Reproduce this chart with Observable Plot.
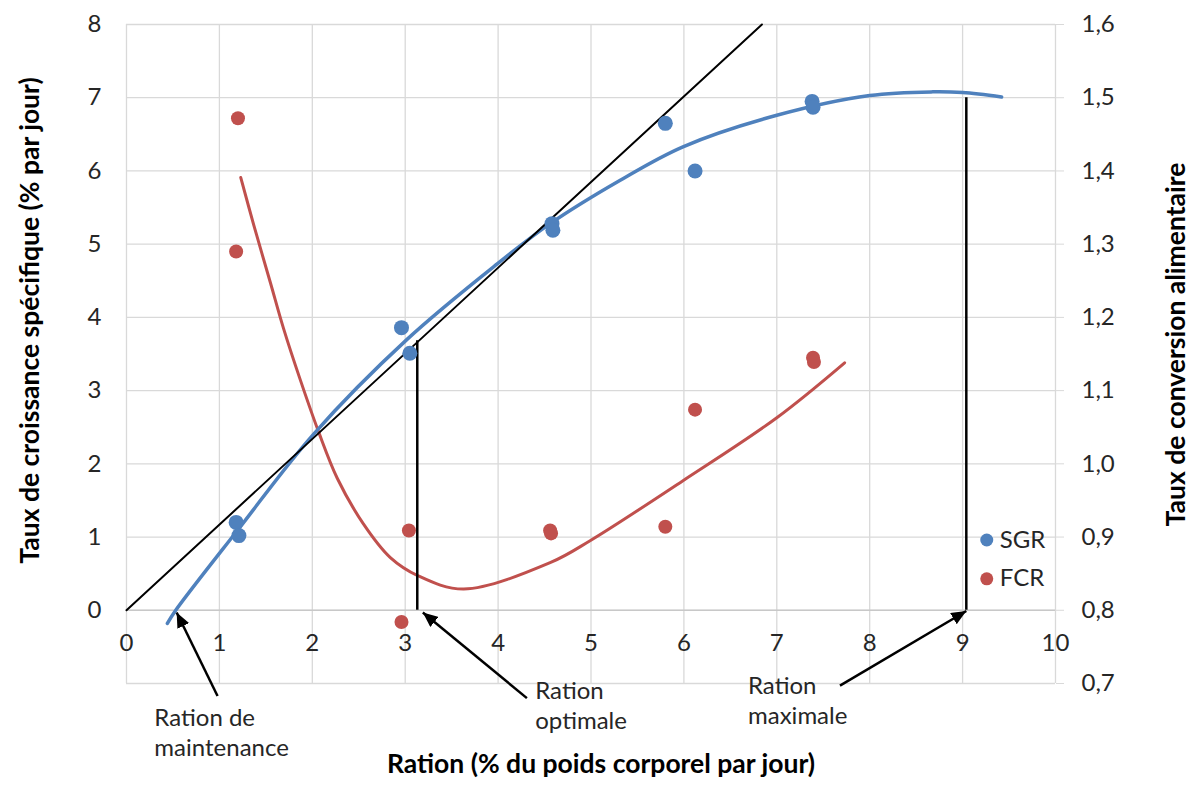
<!DOCTYPE html>
<html><head><meta charset="utf-8">
<script src="https://cdn.jsdelivr.net/npm/d3@7"></script>
<script src="https://cdn.jsdelivr.net/npm/@observablehq/plot@0.6"></script>
<style>
body{margin:0;background:#fff;}
#chart svg{display:block;}
</style></head><body><div id="chart"></div>
<script>
// ---- Data ----
// Observations (ration %, SGR % per day)
const sgrX = [1.18, 1.21, 2.96, 3.05, 4.58, 4.59, 5.80, 6.12, 7.38, 7.39];
const sgrY = [1.20, 1.02, 3.86, 3.51, 5.28, 5.19, 6.65, 6.00, 6.95, 6.87];
// Observations (ration %, FCR) — right axis
const fcrX = [1.20, 1.18, 2.96, 3.04, 4.56, 4.57, 5.80, 6.12, 7.39, 7.40];
const fcrY = [1.472, 1.290, 0.784, 0.909, 0.909, 0.905, 0.914, 1.074, 1.145, 1.139];
// Trend curve of SGR
const sgrTrendX = [0.44, 0.53, 1.20, 2.01, 3.02, 3.99, 4.56, 5.31, 5.99, 7.00, 8.00, 8.68, 9.00, 9.42];
const sgrTrendY = [-0.18, 0.00, 1.10, 2.40, 3.70, 4.73, 5.28, 5.87, 6.33, 6.76, 7.03, 7.08, 7.07, 7.01];
// Trend curve of FCR — right axis
const fcrTrendX = [1.23, 1.37, 1.55, 1.69, 1.87, 2.07, 2.27, 2.55, 2.84, 3.14, 3.63, 4.56, 4.99, 5.99, 7.00, 7.73];
const fcrTrendY = [1.391, 1.326, 1.247, 1.185, 1.115, 1.043, 0.980, 0.918, 0.872, 0.847, 0.829, 0.865, 0.895, 0.977, 1.063, 1.138];
// Tangent from the origin
const tangentX = [0, 6.84];
const tangentY = [0, 8];
// Optimal and maximal rations (x, height on SGR axis)
const rationMarksX = [3.13, 9.04];
const rationMarksTop = [3.68, 7.00];
// Annotations
const annotationText = ["Ration de\nmaintenance", "Ration\noptimale", "Ration\nmaximale"];
const annotationTextX = [0.30, 4.40, 6.69];
const annotationTextY = [-1.66, -1.28, -1.22];
const arrowFromX = [0.98, 4.31, 7.68];
const arrowFromY = [-1.17, -1.20, -1.03];
const arrowToX = [0.54, 3.19, 9.04];
const arrowToY = [-0.03, -0.03, -0.01];
// Legend
const seriesNames = ["SGR", "FCR"];
const legendX = [9.26, 9.26];
const legendY = [0.96, 0.43];
// Ticks
const xTicks = [0, 1, 2, 3, 4, 5, 6, 7, 8, 9, 10];
const leftTicks = [0, 1, 2, 3, 4, 5, 6, 7, 8];
const rightTicks = [0.7, 0.8, 0.9, 1.0, 1.1, 1.2, 1.3, 1.4, 1.5, 1.6];
const titleLeft = "Taux de croissance spécifique (% par jour)";
const titleRight = "Taux de conversion alimentaire";
const titleX = "Ration (% du poids corporel par jour)";

// ---- Build ----
const BLUE = "#4F81BD", RED = "#C0504D", GRID = "#d9d9d9", INK = "#262626";
const FS = 24, FSB = 26.5;
const toLeft = v => (v - 0.8) * 10;           // right-axis value -> left-axis units
const fmt = v => (Math.round(v * 10) / 10).toFixed(1).replace(".", ",");
const zip = (xs, ys) => xs.map((x, i) => ({x, y: ys[i]}));

const sgr = zip(sgrX, sgrY);
const fcr = zip(fcrX, fcrY.map(toLeft));
const sgrTrend = zip(sgrTrendX, sgrTrendY);
const fcrTrend = zip(fcrTrendX, fcrTrendY.map(toLeft));
const tangent = zip(tangentX, tangentY);
const rations = rationMarksX.map((x, i) => ({x, top: rationMarksTop[i]}));
const annotations = annotationText.map((t, i) => ({
  t, tx: annotationTextX[i], ty: annotationTextY[i],
  x1: arrowFromX[i], y1: arrowFromY[i], x2: arrowToX[i], y2: arrowToY[i]
}));
const legend = seriesNames.map((n, i) => ({n, x: legendX[i], y: legendY[i], c: i === 0 ? BLUE : RED}));
const gridY = rightTicks.map(toLeft);

function triangleHead(color) {
  return d3.create("svg:marker")
    .attr("viewBox", "-15 -6.5 15 13")
    .attr("markerWidth", 15).attr("markerHeight", 13)
    .attr("markerUnits", "userSpaceOnUse")
    .attr("orient", "auto")
    .attr("refX", 0).attr("refY", 0)
    .call(m => m.append("path").attr("d", "M-15,-6.5L0,0L-15,6.5Z").attr("fill", color).attr("stroke", "none"))
    .node();
}

function build(marker) {
  return Plot.plot({
    width: 1192, height: 789,
    marginLeft: 126, marginRight: 137, marginTop: 24, marginBottom: 106,
    style: {fontFamily: "Lato, 'Open Sans', sans-serif", fontSize: FS + "px", color: INK, background: "#fff"},
    x: {domain: [0, 10], axis: null},
    y: {domain: [-1, 8], axis: null},
    marks: [
      Plot.ruleX(xTicks, {y1: -1, y2: 8, stroke: GRID, strokeWidth: 1.3}),
      Plot.ruleY(gridY, {x1: 0, x2: 10, stroke: GRID, strokeWidth: 1.3}),
      Plot.ruleY([0], {x1: 0, x2: 10, stroke: "#c8c8c8", strokeWidth: 1.5}),
      Plot.axisY(leftTicks, {anchor: "left", tickSize: 0, tickPadding: 25, label: null, fontSize: FS, fill: INK,
        tickFormat: d => String(d)}),
      Plot.axisY(gridY, {anchor: "right", tickSize: 8, tickPadding: 18, label: null, stroke: GRID, fill: INK,
        fontSize: FS, tickFormat: v => fmt(0.8 + v / 10)}),
      Plot.text(xTicks, {x: d => d, y: 0, dy: 33, text: d => String(d), fontSize: FS, fill: INK}),
      // trend curves
      Plot.line(fcrTrend, {x: "x", y: "y", stroke: RED, strokeWidth: 3, curve: "catmull-rom"}),
      Plot.line(sgrTrend, {x: "x", y: "y", stroke: BLUE, strokeWidth: 3.5, curve: "catmull-rom"}),
      Plot.line(tangent, {x: "x", y: "y", stroke: "#000", strokeWidth: 2}),
      Plot.ruleX(rations, {x: "x", y1: 0, y2: "top", stroke: "#000", strokeWidth: 2.5}),
      // observations
      Plot.dot(fcr, {x: "x", y: "y", r: 7, fill: RED}),
      Plot.dot(sgr, {x: "x", y: "y", r: 7.5, fill: BLUE}),
      // annotations
      Plot.link(annotations, {x1: "x1", y1: "y1", x2: "x2", y2: "y2", stroke: "#000", strokeWidth: 2.5, markerEnd: marker}),
      Plot.text(annotations, {x: "tx", y: "ty", text: "t", textAnchor: "start", lineHeight: 1.25, fontSize: FS, fill: INK}),
      // legend
      Plot.dot(legend, {x: "x", y: "y", r: 6.5, fill: "c"}),
      Plot.text(legend, {x: "x", y: "y", text: "n", dx: 13, textAnchor: "start", fontSize: FS, fill: INK}),
      // titles
      Plot.text([titleLeft], {frameAnchor: "left", textAnchor: "middle", dx: -96, dy: -33.5, rotate: -90, text: d => d,
        fontSize: FSB, fontWeight: "bold", fill: "#000"}),
      Plot.text([titleRight], {frameAnchor: "right", textAnchor: "middle", dx: 121, dy: -9.5, rotate: -90, text: d => d,
        fontSize: FSB, fontWeight: "bold", fill: "#000"}),
      Plot.text([titleX], {frameAnchor: "bottom", textAnchor: "middle", dx: 10, dy: 89, text: d => d,
        fontSize: FSB, fontWeight: "bold", fill: "#000"})
    ]
  });
}

let chart;
try { chart = build(triangleHead); } catch (e) { chart = build("arrow"); }
document.getElementById("chart").append(chart);
</script>
</body></html>
